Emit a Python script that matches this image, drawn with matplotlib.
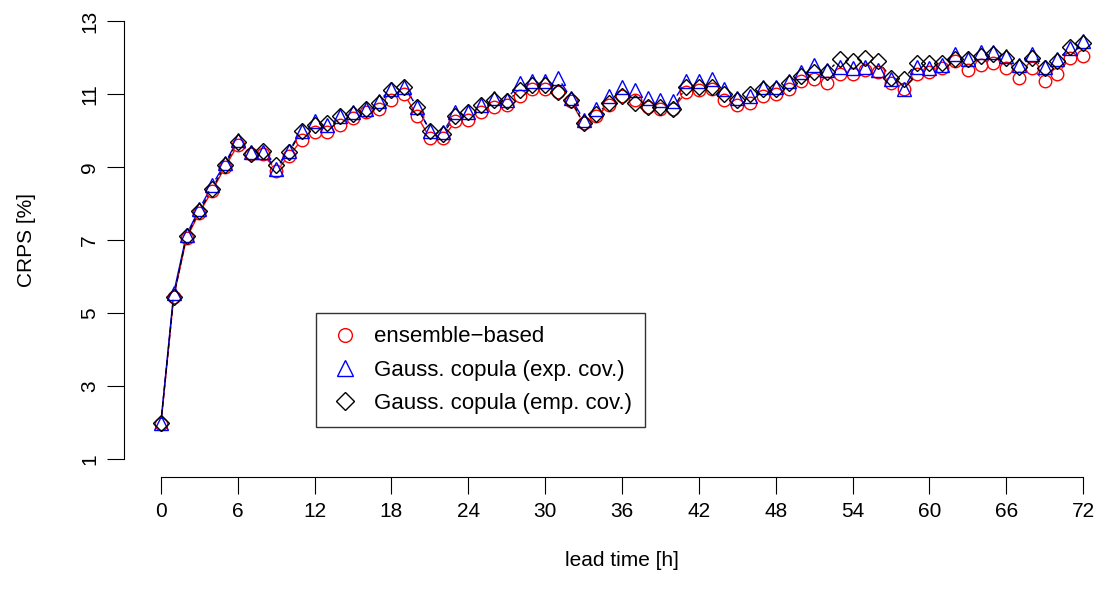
import numpy as np
import matplotlib
matplotlib.use("Agg")
import matplotlib.pyplot as plt

plt.rcParams['font.family'] = ['Liberation Sans', 'DejaVu Sans']

hours = np.arange(73)
ens = [1.95, 5.45, 7.05, 7.75, 8.35, 9.0, 9.6, 9.35, 9.35, 8.9, 9.3, 9.75, 9.95, 9.95, 10.15, 10.35,
       10.5, 10.6, 10.85, 11.0, 10.4, 9.8, 9.8, 10.25, 10.3, 10.5, 10.65, 10.7, 10.95, 11.15, 11.15,
       11.05, 10.8, 10.2, 10.4, 10.7, 10.95, 10.85, 10.65, 10.6, 10.6, 11.05, 11.1, 11.15, 10.85,
       10.7, 10.75, 10.95, 11.0, 11.15, 11.35, 11.4, 11.3, 11.55, 11.55, 11.65, 11.6, 11.3, 11.15,
       11.55, 11.6, 11.7, 11.9, 11.65, 11.8, 11.85, 11.7, 11.45, 11.7, 11.35, 11.55, 12.0, 12.05]
exp_cov = [2.0, 5.55, 7.15, 7.85, 8.5, 9.1, 9.75, 9.4, 9.4, 8.95, 9.45, 10.0, 10.25, 10.15, 10.4,
           10.5, 10.6, 10.8, 11.15, 11.2, 10.65, 10.0, 9.95, 10.5, 10.5, 10.7, 10.9, 10.85, 11.3,
           11.35, 11.35, 11.45, 10.9, 10.3, 10.6, 10.95, 11.2, 11.1, 10.9, 10.85, 10.8, 11.35, 11.35,
           11.4, 11.15, 10.9, 10.95, 11.2, 11.2, 11.35, 11.6, 11.8, 11.65, 11.75, 11.7, 11.75, 11.65,
           11.4, 11.15, 11.75, 11.7, 11.8, 12.1, 11.95, 12.15, 12.15, 12.05, 11.8, 12.1, 11.75, 11.95,
           12.25, 12.45]
emp_cov = [2.0, 5.45, 7.1, 7.8, 8.4, 9.05, 9.7, 9.35, 9.45, 9.05, 9.4, 10.0, 10.15, 10.2, 10.4,
           10.45, 10.6, 10.75, 11.1, 11.2, 10.65, 10.0, 9.9, 10.4, 10.5, 10.7, 10.85, 10.8, 11.1,
           11.25, 11.25, 11.05, 10.85, 10.2, 10.45, 10.75, 10.95, 10.75, 10.65, 10.65, 10.6, 11.2,
           11.2, 11.2, 11.0, 10.85, 11.0, 11.15, 11.15, 11.3, 11.5, 11.6, 11.6, 11.95, 11.9, 12.0,
           11.9, 11.45, 11.4, 11.85, 11.85, 11.85, 11.95, 11.95, 12.05, 12.1, 12.0, 11.75, 12.0, 11.7,
           11.9, 12.3, 12.4]

W, H = 1101, 597
fig = plt.figure(figsize=(W / 100, H / 100), dpi=100)
ax = fig.add_axes([124 / W, (H - 476.7) / H, 996 / W, 473.2 / H])
ax.set_xlim(-2.88, 74.88)
ax.set_ylim(0.52, 13.48)

series = [(ens, "red", "o", "ensemble\u2212based"),
          (exp_cov, "blue", "^", "Gauss. copula (exp. cov.)"),
          (emp_cov, "black", "D", "Gauss. copula (emp. cov.)")]
sizes = {"o": 9, "^": 10, "D": 8}

# R type="b": segments shortened around each point, dropped when too short
fig.canvas.draw()
gap = 7.5
for y, c, m, lab in series:
    pts = ax.transData.transform(np.column_stack([hours, y]))
    inv = ax.transData.inverted()
    for p, q in zip(pts[:-1], pts[1:]):
        d = q - p
        L = np.hypot(*d)
        if L > 2 * gap + 1:
            u = d / L
            a = inv.transform(p + u * gap)
            b = inv.transform(q - u * gap)
            ax.plot([a[0], b[0]], [a[1], b[1]], color=c, lw=1, dashes=[4, 2] if c == "black" else [])
for y, c, m, lab in series:
    ax.plot(hours, y, linestyle="none", marker=m, mfc="none", mec=c, ms=sizes[m],
            mew=1, label=lab)

for s in ["top", "right"]:
    ax.spines[s].set_visible(False)
ax.spines["bottom"].set_bounds(0, 72)
ax.spines["left"].set_bounds(1, 13)
ax.set_xticks(range(0, 73, 6))
ax.set_yticks(range(1, 14, 2))
ax.tick_params(direction="out", length=12, labelsize=15, pad=6)
ax.tick_params(axis="y", labelrotation=90)
for t in ax.get_yticklabels():
    t.set_va("center")
ax.set_xlabel("lead time [h]", fontsize=15, labelpad=22)
ax.set_ylabel("CRPS [%]", fontsize=15, labelpad=32)

leg = ax.legend(loc="upper left", bbox_to_anchor=((316 - 124) / 996, (476.7 - 313) / 473.2),
                fontsize=16, frameon=True, fancybox=False, edgecolor="black",
                borderaxespad=0, borderpad=0.6, handletextpad=0.6, labelspacing=0.55,
                handlelength=1.4, markerscale=1.1)
leg.get_frame().set_linewidth(1)
plt.savefig("out.png", dpi=100)
